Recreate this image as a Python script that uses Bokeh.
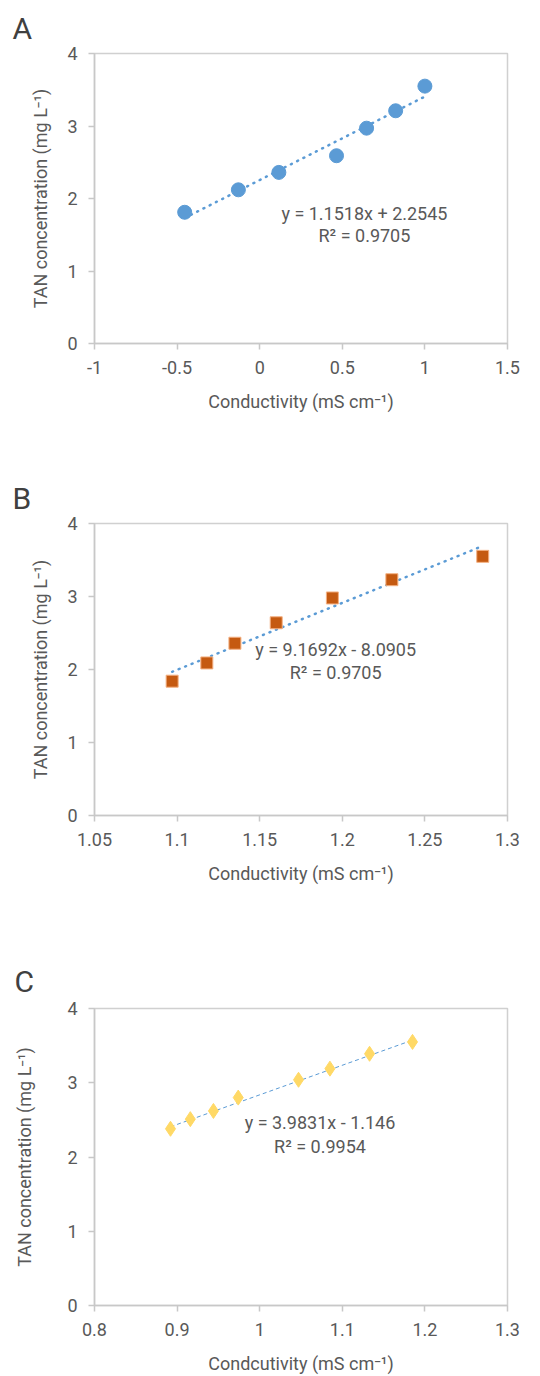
from bokeh.plotting import figure
from bokeh.layouts import column
from bokeh.models import FixedTicker, Label
from bokeh.embed import file_html
from bokeh.resources import INLINE

# ---------------- data ----------------
a_x = [-0.454, -0.129, 0.116, 0.465, 0.647, 0.823, 1.0]
a_y = [1.81, 2.12, 2.36, 2.59, 2.97, 3.21, 3.55]
a_slope, a_intercept = 1.1518, 2.2545
a_eq = "y = 1.1518x + 2.2545"
a_r2 = "R² = 0.9705"
a_xticks = [-1, -0.5, 0, 0.5, 1, 1.5]
a_xlabels = ["-1", "-0.5", "0", "0.5", "1", "1.5"]

b_x = [1.097, 1.118, 1.135, 1.160, 1.194, 1.230, 1.285]
b_y = [1.84, 2.09, 2.36, 2.64, 2.98, 3.23, 3.55]
b_slope, b_intercept = 9.1692, -8.0905
b_eq = "y = 9.1692x - 8.0905"
b_r2 = "R² = 0.9705"
b_xticks = [1.05, 1.1, 1.15, 1.2, 1.25, 1.3]
b_xlabels = ["1.05", "1.1", "1.15", "1.2", "1.25", "1.3"]

c_x = [0.892, 0.916, 0.944, 0.974, 1.047, 1.085, 1.133, 1.185]
c_y = [2.38, 2.51, 2.62, 2.80, 3.04, 3.19, 3.39, 3.55]
c_slope, c_intercept = 3.9831, -1.146
c_eq = "y = 3.9831x - 1.146"
c_r2 = "R² = 0.9954"
c_xticks = [0.8, 0.9, 1.0, 1.1, 1.2, 1.3]
c_xlabels = ["0.8", "0.9", "1", "1.1", "1.2", "1.3"]

y_ticks = [0, 1, 2, 3, 4]
y_labels = ["0", "1", "2", "3", "4"]

FONT = "Roboto"
TXT = "#595959"
BLUE = "#5b9bd5"
FS = "18px"


def make_panel(letter, xs, ys, slope, intercept, eq, r2, xticks, xlabels,
               xr, xlabel, width, height, mb, marker, color, line_dash,
               line_width, line_cap, msize, eq_pos, ylab_standoff, title_off,
               title_standoff):
    p = figure(width=width, height=height, x_range=xr, y_range=(0, 4),
               output_backend="svg", toolbar_location=None,
               min_border_left=mb[0], min_border_right=mb[1],
               min_border_top=mb[2], min_border_bottom=mb[3])
    p.title.text = letter
    p.title.text_font = FONT
    p.title.text_font_size = "30px"
    p.title.text_font_style = "normal"
    p.title.text_color = "#404040"
    p.title.align = "left"
    p.title.offset = title_off
    p.title.standoff = title_standoff
    p.outline_line_color = "#d0d0d0"
    p.outline_line_width = 1.5
    p.xgrid.visible = False
    p.ygrid.visible = False
    for ax in (p.xaxis[0], p.yaxis[0]):
        ax.axis_line_color = "#c8c8c8"
        ax.axis_line_width = 1.5
        ax.major_tick_line_color = "#c8c8c8"
        ax.major_tick_line_width = 1.5
        ax.major_tick_out = 6
        ax.major_tick_in = 0
        ax.minor_tick_line_color = None
        ax.major_label_text_font = FONT
        ax.major_label_text_font_size = FS
        ax.major_label_text_color = TXT
        ax.axis_label_text_font = FONT
        ax.axis_label_text_font_size = FS
        ax.axis_label_text_font_style = "normal"
        ax.axis_label_text_color = TXT
    p.xaxis.ticker = FixedTicker(ticks=xticks)
    p.xaxis.major_label_overrides = {t: l for t, l in zip(xticks, xlabels)}
    p.yaxis.ticker = FixedTicker(ticks=y_ticks)
    p.yaxis.major_label_overrides = {t: l for t, l in zip(y_ticks, y_labels)}
    p.xaxis.axis_label = xlabel
    p.yaxis.axis_label = "TAN concentration (mg L⁻¹)"
    p.xaxis.major_label_standoff = 11
    p.xaxis.axis_label_standoff = 14
    p.yaxis.major_label_standoff = 11
    p.yaxis.axis_label_standoff = ylab_standoff

    x0, x1 = min(xs), max(xs)
    p.line([x0, x1], [slope * x0 + intercept, slope * x1 + intercept],
           line_color=BLUE, line_dash=line_dash, line_width=line_width,
           line_cap=line_cap)
    p.scatter(xs, ys, marker=marker, size=msize, fill_color=color,
              line_color=color if marker != "square" else "#f4b183",
              line_width=1)

    p.add_layout(Label(x=eq_pos[0], y=eq_pos[1], text=eq, text_align="center",
                       text_baseline="middle", text_font=FONT,
                       text_font_size=FS, text_color=TXT))
    p.add_layout(Label(x=eq_pos[0], y=eq_pos[2], text=r2, text_align="center",
                       text_baseline="middle", text_font=FONT,
                       text_font_size=FS, text_color=TXT))
    return p


pa = make_panel("A", a_x, a_y, a_slope, a_intercept, a_eq, a_r2, a_xticks,
                a_xlabels, (-1, 1.5), "Conductivity (mS cm⁻¹)", 532, 470,
                (94, 25, 53, 127), "circle", BLUE, "1 6", 2.5, "round",
                14, (0.634, 1.80, 1.49), 13, -82, 15)
pb = make_panel("B", b_x, b_y, b_slope, b_intercept, b_eq, b_r2, b_xticks,
                b_xlabels, (1.05, 1.3), "Conductivity (mS cm⁻¹)", 532, 480,
                (94, 25, 53, 135), "square", "#c55a11", "1 6", 2.5, "round",
                12, (1.196, 2.27, 1.96), 13, -82, 15)
pc = make_panel("C", c_x, c_y, c_slope, c_intercept, c_eq, c_r2, c_xticks,
                c_xlabels, (0.8, 1.3), "Condcutivity (mS cm⁻¹)", 532, 426,
                (89, 22, 58, 69), "diamond", "#ffd966", "4 3", 1, "butt",
                15, (1.073, 2.46, 2.14), 29, -80, 20)

layout = column(pa, pb, pc)
open("out.html", "w").write(file_html(layout, INLINE))
